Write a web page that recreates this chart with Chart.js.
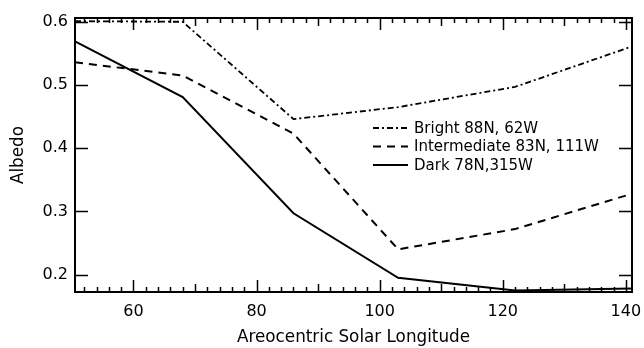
<!DOCTYPE html>
<html>
<head>
<meta charset="utf-8">
<style>
  html, body { margin: 0; padding: 0; background: #fff; }
  #albedo-chart { display: block; }
</style>
<script src="https://cdn.jsdelivr.net/npm/chart.js@4/dist/chart.umd.min.js"></script>
</head>
<body>
<canvas id="albedo-chart" width="644" height="348"></canvas>
<script>
// Seasonal albedo at three polar sites
const longitudes = [50.5, 68, 86, 103, 122, 141];
const brightAlbedo = [0.601, 0.600, 0.446, 0.465, 0.497, 0.561];
const intermediateAlbedo = [0.536, 0.515, 0.423, 0.240, 0.272, 0.328];
const darkAlbedo = [0.569, 0.481, 0.297, 0.195, 0.175, 0.178];

const seriesLabels = ['Bright 88N, 62W', 'Intermediate 83N, 111W', 'Dark 78N,315W'];
const xTicks = [60, 80, 100, 120, 140];
const yTicks = [0.2, 0.3, 0.4, 0.5, 0.6];

const FONT = '"DejaVu Sans", Verdana, sans-serif';

function toPoints(values) {
    return values.map((y, i) => ({ x: longitudes[i], y }));
}

// frame plus inward tick marks on all four sides
const frameTicks = {
    id: 'frameTicks',
    afterDatasetsDraw(chart) {
        const { ctx, chartArea: a, scales } = chart;
        const x = scales.x;
        const y = scales.y;
        ctx.save();
        ctx.strokeStyle = '#000';
        ctx.lineWidth = 1.5;
        ctx.beginPath();
        for (let v = Math.ceil(x.min / 2) * 2; v <= x.max; v += 2) {
            const px = Math.round(x.getPixelForValue(v)) + 0.5;
            let len = 5;
            if (v % 20 === 0) len = 12;
            else if (v % 10 === 0) len = 8;
            ctx.moveTo(px, a.bottom);
            ctx.lineTo(px, a.bottom - len);
            ctx.moveTo(px, a.top);
            ctx.lineTo(px, a.top + len);
        }
        yTicks.forEach((v) => {
            const py = Math.round(y.getPixelForValue(v)) + 0.5;
            ctx.moveTo(a.left, py);
            ctx.lineTo(a.left + 13, py);
            ctx.moveTo(a.right, py);
            ctx.lineTo(a.right - 13, py);
        });
        ctx.stroke();
        ctx.lineWidth = 2;
        ctx.strokeRect(a.left, a.top, a.right - a.left, a.bottom - a.top);
        ctx.restore();
    },
};

// legend drawn inside the plot, right of centre
const insideLegend = {
    id: 'insideLegend',
    afterDatasetsDraw(chart) {
        const { ctx } = chart;
        ctx.save();
        ctx.font = '15px ' + FONT;
        ctx.fillStyle = '#000';
        ctx.textBaseline = 'middle';
        chart.data.datasets.forEach((ds, i) => {
            const rowY = 128 + i * 18.5;
            ctx.strokeStyle = '#000';
            ctx.lineWidth = ds.borderWidth;
            ctx.setLineDash(ds.borderDash || []);
            ctx.beginPath();
            ctx.moveTo(373, rowY);
            ctx.lineTo(408, rowY);
            ctx.stroke();
            ctx.fillText(ds.label, 414, rowY + 1);
        });
        ctx.restore();
    },
};

const ctx = document.querySelector('#albedo-chart').getContext('2d');
new Chart(ctx, {
    type: 'line',
    data: {
        datasets: [
            {
                label: seriesLabels[0],
                data: toPoints(brightAlbedo),
                borderColor: '#000',
                borderWidth: 1.8,
                borderDash: [6, 3, 2, 3],
            },
            {
                label: seriesLabels[1],
                data: toPoints(intermediateAlbedo),
                borderColor: '#000',
                borderWidth: 2,
                borderDash: [8, 6],
            },
            {
                label: seriesLabels[2],
                data: toPoints(darkAlbedo),
                borderColor: '#000',
                borderWidth: 2,
            },
        ],
    },
    options: {
        responsive: false,
        animation: false,
        devicePixelRatio: 1,
        elements: { point: { radius: 0 }, line: { tension: 0 } },
        layout: { padding: { top: 18, right: 12, left: 0, bottom: 0 } },
        plugins: { legend: { display: false }, tooltip: { enabled: false } },
        scales: {
            x: {
                type: 'linear',
                min: 50.5,
                max: 141,
                afterBuildTicks: (scale) => { scale.ticks = xTicks.map((value) => ({ value })); },
                afterFit: (scale) => {
                    scale.height = 56;
                    scale.paddingLeft = 0;
                    scale.paddingRight = 0;
                },
                grid: { display: false, drawTicks: false },
                border: { display: false },
                ticks: { color: '#000', font: { family: FONT, size: 16 }, padding: 10, maxRotation: 0 },
                title: {
                    display: true,
                    text: 'Areocentric Solar Longitude',
                    color: '#000',
                    font: { family: FONT, size: 16.8 },
                    padding: { top: 0, bottom: 0 },
                },
            },
            y: {
                min: 0.1725,
                max: 0.606,
                afterBuildTicks: (scale) => { scale.ticks = yTicks.map((value) => ({ value })); },
                afterFit: (scale) => {
                    scale.width = 75;
                    scale.paddingTop = 0;
                    scale.paddingBottom = 0;
                },
                grid: { display: false, drawTicks: false },
                border: { display: false },
                ticks: {
                    color: '#000',
                    font: { family: FONT, size: 16 },
                    padding: 7,
                    callback: (v) => v.toFixed(1),
                },
                title: {
                    display: true,
                    text: 'Albedo',
                    color: '#000',
                    font: { family: FONT, size: 16.8 },
                    padding: { top: 9, bottom: 0 },
                },
            },
        },
    },
    plugins: [frameTicks, insideLegend],
});
</script>
</body>
</html>
